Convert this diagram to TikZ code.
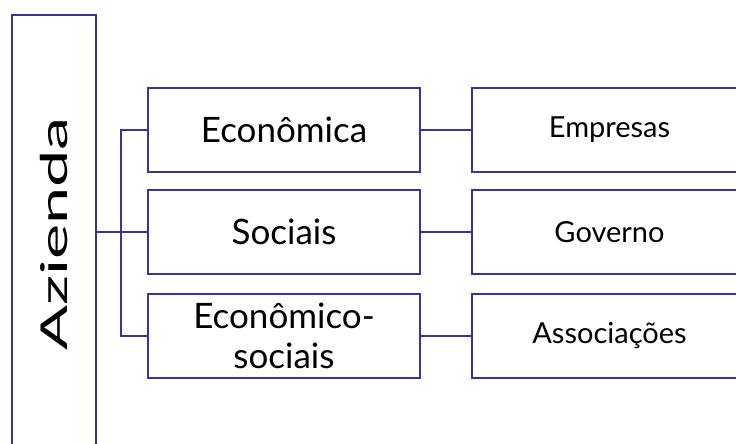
\documentclass[tikz,border=0pt]{standalone}
\usepackage{fontspec}
\setmainfont{Lato}
\definecolor{linecol}{HTML}{3F2F9F}
\begin{document}
\begin{tikzpicture}[x=1pt,y=-1pt,
  box/.style={draw=linecol,line width=2.2pt,minimum width=272pt,minimum height=84pt,
    inner sep=0pt,align=center,font=\fontsize{35pt}{40pt}\selectfont},
  subbox/.style={box,minimum width=275pt,font=\fontsize{29pt}{34pt}\selectfont},
  link/.style={draw=linecol,line width=2.2pt}]
\useasboundingbox (0,0) rectangle (736,444);

% left column
\node [draw=linecol,line width=2.2pt,minimum width=84pt,minimum height=438pt] (azienda) at (54,234) {};
\node [rotate=90,inner sep=0pt] (aziendatext) at (azienda.center)
  {\scalebox{1.8}[1]{\fontsize{37pt}{44pt}\selectfont Azienda}};

% middle column
\node [box] (economica) at (284,130) {Econômica};
\node [box] (sociais) at (284,232) {Sociais};
\node [box] (mistas) at (284,336) {Econômico-\\sociais};

% right column
\node [subbox] (empresas) at (609.5,130) {Empresas};
\node [subbox] (governo) at (609.5,232) {Governo};
\node [subbox] (associacoes) at (609.5,336) {Associações};

% connectors
\draw [link] (azienda.east |- sociais.west) -- (sociais.west);
\draw [link] (economica.west) -- ++(-26,0) |- (mistas.west);
\draw [link] (economica) -- (empresas);
\draw [link] (sociais) -- (governo);
\draw [link] (mistas) -- (associacoes);

\end{tikzpicture}
\end{document}
